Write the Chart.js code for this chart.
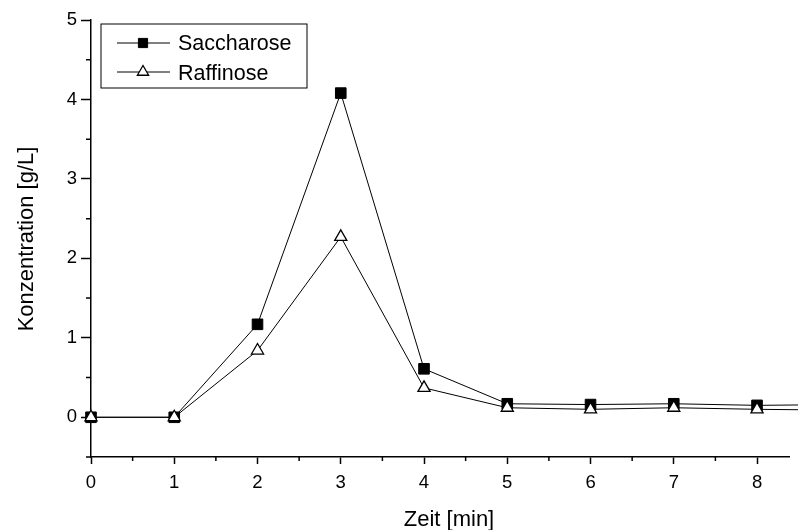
<!DOCTYPE html>
<html>
<head>
<meta charset="utf-8">
<script src="https://cdn.jsdelivr.net/npm/chart.js@4"></script>
<style>
  html, body { margin: 0; padding: 0; background: #fff; }
  #wrap { width: 798px; height: 530px; }
</style>
</head>
<body>
<div id="wrap"><canvas id="chart" width="798" height="530"></canvas></div>
<script>
// time in minutes
var zeit = [0, 1, 2, 3, 4, 5, 6, 7, 8, 9];
// concentrations in g/L
var saccharose = [0, 0, 1.17, 4.08, 0.61, 0.17, 0.16, 0.17, 0.15, 0.16];
var raffinose = [0, 0, 0.84, 2.27, 0.37, 0.12, 0.10, 0.12, 0.10, 0.09];
var seriesNames = ['Saccharose', 'Raffinose'];
var xTitle = 'Zeit [min]';
var yTitle = 'Konzentration [g/L]';

var FONT = 'Arial, "Liberation Sans", sans-serif';

function toPoints(xs, ys) {
    return xs.map(function(x, i) { return { x: x, y: ys[i] }; });
}

// minor ticks, axis stub, legend and titles drawn by hand
var originStyle = {
    id: 'originStyle',
    afterDraw: function(chart) {
        var ctx = chart.ctx;
        var xs = chart.scales.x, ys = chart.scales.y;
        var area = chart.chartArea;
        ctx.save();
        ctx.strokeStyle = '#000';
        ctx.lineWidth = 1.5;
        ctx.beginPath();
        ctx.moveTo(area.left - 5, area.bottom);
        ctx.lineTo(area.left, area.bottom);
        xs.ticks.forEach(function(t) {
            var v = t.value + 0.5;
            if (v > xs.max) return;
            var px = xs.getPixelForValue(v);
            ctx.moveTo(px, area.bottom);
            ctx.lineTo(px, area.bottom + 4);
        });
        for (var v = ys.min + 1; v < ys.max; v += 1) {
            var py = ys.getPixelForValue(v);
            ctx.moveTo(area.left, py);
            ctx.lineTo(area.left - 5, py);
        }
        ctx.stroke();

        // legend
        ctx.lineWidth = 1;
        ctx.strokeRect(101, 24, 206, 64);
        var rows = [43, 72];
        chart.data.datasets.forEach(function(ds, i) {
            var y = rows[i];
            ctx.strokeStyle = '#000';
            ctx.lineWidth = 1;
            ctx.beginPath();
            ctx.moveTo(117, y);
            ctx.lineTo(170, y);
            ctx.stroke();
            ctx.save();
            ctx.fillStyle = ds.pointBackgroundColor;
            ctx.strokeStyle = '#000';
            ctx.lineWidth = ds.pointBorderWidth;
            Chart.helpers.drawPoint(ctx, {
                pointStyle: ds.pointStyle,
                radius: 6.5,
                borderWidth: ds.pointBorderWidth
            }, 143, y);
            ctx.restore();
        });
        ctx.font = '21.5px ' + FONT;
        ctx.fillStyle = '#000';
        ctx.textAlign = 'left';
        ctx.textBaseline = 'alphabetic';
        ctx.fillText(seriesNames[0], 178, 50);
        ctx.fillText(seriesNames[1], 178, 79.5);

        // axis titles
        ctx.font = '22px ' + FONT;
        ctx.textAlign = 'center';
        ctx.fillText(xTitle, 449, 526);
        ctx.translate(33, 239);
        ctx.rotate(-Math.PI / 2);
        ctx.fillText(yTitle, 0, 0);
        ctx.restore();
    }
};

new Chart(document.getElementById('chart').getContext('2d'), {
    type: 'line',
    data: {
        datasets: [{
            label: seriesNames[0],
            data: toPoints(zeit, saccharose),
            borderColor: '#000',
            borderWidth: 1,
            pointStyle: 'rect',
            pointRadius: 7.5,
            pointBackgroundColor: '#000',
            pointBorderColor: '#000',
            pointBorderWidth: 1,
            clip: false,
            order: 2
        }, {
            label: seriesNames[1],
            data: toPoints(zeit, raffinose),
            borderColor: '#000',
            borderWidth: 1,
            pointStyle: 'triangle',
            pointRadius: 7,
            pointBackgroundColor: '#fff',
            pointBorderColor: '#000',
            pointBorderWidth: 1.3,
            clip: false,
            order: 1
        }]
    },
    options: {
        responsive: false,
        animation: false,
        layout: { padding: { left: 0, top: 20, right: 0, bottom: 0 } },
        plugins: {
            legend: { display: false },
            tooltip: { enabled: false }
        },
        scales: {
            x: {
                type: 'linear',
                min: 0,
                max: 8.39,
                afterFit: function(scale) { scale.height = 73; },
                ticks: {
                    stepSize: 1,
                    includeBounds: false,
                    padding: 8,
                    color: '#000',
                    font: { family: FONT, size: 18.5 },
                    maxRotation: 0
                },
                grid: {
                    drawOnChartArea: false,
                    drawTicks: true,
                    tickLength: 7,
                    tickColor: '#000',
                    tickWidth: 1.5
                },
                border: { display: true, color: '#000', width: 1.5 }
            },
            y: {
                min: -0.5,
                max: 5,
                afterFit: function(scale) { scale.width = 91; },
                ticks: {
                    stepSize: 1,
                    includeBounds: false,
                    padding: 4,
                    color: '#000',
                    font: { family: FONT, size: 18.5 }
                },
                grid: {
                    drawOnChartArea: false,
                    drawTicks: true,
                    tickLength: 10,
                    tickColor: '#000',
                    tickWidth: 1.5
                },
                border: { display: true, color: '#000', width: 1.5 }
            }
        }
    },
    plugins: [originStyle]
});
</script>
</body>
</html>
